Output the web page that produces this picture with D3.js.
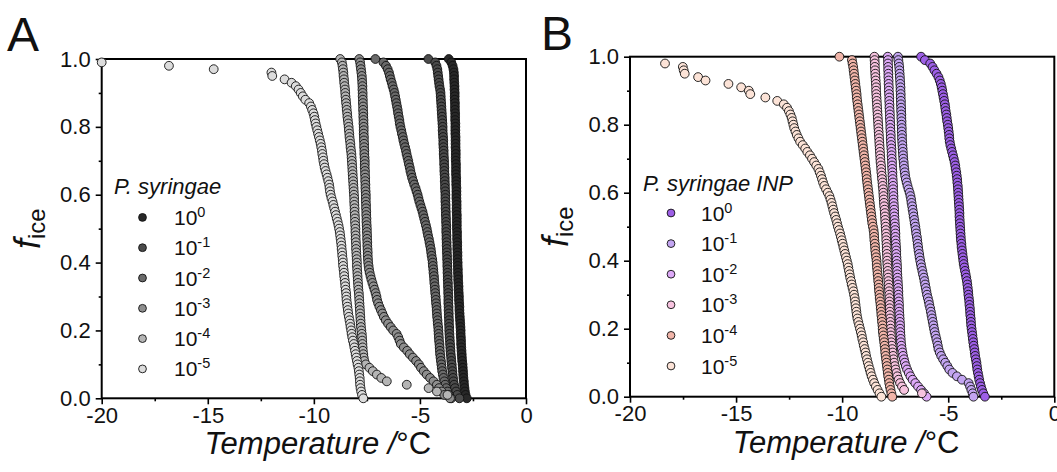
<!DOCTYPE html>
<html>
<head>
<meta charset="utf-8">
<script src="https://cdn.jsdelivr.net/npm/d3@7"></script>
<style>
  body { margin: 0; background: #fff; }
  svg { display: block; }
  text { font-family: "Liberation Sans", Arial, sans-serif; fill: #111; }
</style>
</head>
<body>
<svg id="chart" width="1057" height="472"></svg>
<script>
// Frozen fraction levels shared by every dilution series (one droplet = 0.01)
const ficeLevels = [
  1.00,0.99,0.98,0.97,0.96,0.95,0.94,0.93,0.92,0.91,0.90,
  0.89,0.88,0.87,0.86,0.85,0.84,0.83,0.82,0.81,0.80,
  0.79,0.78,0.77,0.76,0.75,0.74,0.73,0.72,0.71,0.70,
  0.69,0.68,0.67,0.66,0.65,0.64,0.63,0.62,0.61,0.60,
  0.59,0.58,0.57,0.56,0.55,0.54,0.53,0.52,0.51,0.50,
  0.49,0.48,0.47,0.46,0.45,0.44,0.43,0.42,0.41,0.40,
  0.39,0.38,0.37,0.36,0.35,0.34,0.33,0.32,0.31,0.30,
  0.29,0.28,0.27,0.26,0.25,0.24,0.23,0.22,0.21,0.20,
  0.19,0.18,0.17,0.16,0.15,0.14,0.13,0.12,0.11,0.10,
  0.09,0.08,0.07,0.06,0.05,0.04,0.03,0.02,0.01,0.00
];

const dilutionExponents = ["0", "-1", "-2", "-3", "-4", "-5"];
const xTicks = [-20, -15, -10, -5, 0];
const xMinorTicks = [-17.5, -12.5, -7.5, -2.5];
const yTicks = [0.0, 0.2, 0.4, 0.6, 0.8, 1.0];
const yMinorTicks = [0.1, 0.3, 0.5, 0.7, 0.9];

// Freezing temperatures (°C), P. syringae, dilution 10^0 ... 10^-5
const syrE0 = [
  -3.64,-3.52,-3.46,-3.42,-3.40,-3.39,-3.39,-3.38,-3.37,-3.37,-3.36,
  -3.36,-3.36,-3.35,-3.35,-3.35,-3.34,-3.34,-3.34,-3.33,-3.33,
  -3.33,-3.33,-3.32,-3.32,-3.32,-3.32,-3.31,-3.31,-3.31,-3.31,
  -3.30,-3.30,-3.30,-3.30,-3.29,-3.29,-3.29,-3.28,-3.28,-3.28,
  -3.28,-3.27,-3.27,-3.27,-3.27,-3.26,-3.26,-3.26,-3.26,-3.26,
  -3.25,-3.25,-3.25,-3.24,-3.24,-3.24,-3.23,-3.23,-3.23,-3.22,
  -3.22,-3.21,-3.21,-3.20,-3.20,-3.19,-3.18,-3.18,-3.17,-3.16,
  -3.16,-3.15,-3.14,-3.14,-3.13,-3.12,-3.11,-3.10,-3.09,-3.08,
  -3.08,-3.07,-3.06,-3.06,-3.05,-3.04,-3.03,-3.02,-3.01,-2.99,
  -2.98,-2.97,-2.96,-2.95,-2.93,-2.92,-2.90,-2.88,-2.85,-2.79
];
const syrE1 = [
  -4.60,-4.28,-4.22,-4.18,-4.16,-4.14,-4.12,-4.10,-4.08,-4.05,-4.03,
  -4.02,-4.01,-4.00,-3.99,-3.98,-3.97,-3.96,-3.95,-3.94,-3.93,
  -3.93,-3.92,-3.91,-3.90,-3.90,-3.89,-3.88,-3.88,-3.87,-3.86,
  -3.86,-3.85,-3.85,-3.84,-3.83,-3.83,-3.82,-3.82,-3.81,-3.80,
  -3.80,-3.80,-3.79,-3.79,-3.78,-3.78,-3.77,-3.77,-3.76,-3.76,
  -3.76,-3.75,-3.75,-3.74,-3.74,-3.73,-3.73,-3.72,-3.72,-3.71,
  -3.71,-3.70,-3.70,-3.69,-3.69,-3.68,-3.68,-3.67,-3.67,-3.66,
  -3.66,-3.66,-3.65,-3.65,-3.64,-3.64,-3.63,-3.63,-3.62,-3.62,
  -3.61,-3.60,-3.59,-3.58,-3.57,-3.56,-3.55,-3.53,-3.52,-3.50,
  -3.49,-3.47,-3.46,-3.44,-3.42,-3.39,-3.35,-3.30,-3.24,-3.14
];
const syrE2 = [
  -7.10,-6.72,-6.60,-6.52,-6.46,-6.42,-6.38,-6.33,-6.29,-6.24,-6.20,
  -6.17,-6.14,-6.11,-6.08,-6.05,-6.03,-6.00,-5.97,-5.95,-5.92,
  -5.88,-5.85,-5.81,-5.78,-5.74,-5.70,-5.66,-5.63,-5.59,-5.55,
  -5.52,-5.48,-5.45,-5.41,-5.37,-5.32,-5.27,-5.21,-5.16,-5.11,
  -5.07,-5.03,-4.98,-4.93,-4.88,-4.84,-4.80,-4.76,-4.72,-4.68,
  -4.65,-4.62,-4.58,-4.55,-4.52,-4.49,-4.47,-4.45,-4.42,-4.40,
  -4.39,-4.37,-4.36,-4.34,-4.33,-4.32,-4.30,-4.29,-4.28,-4.26,
  -4.25,-4.24,-4.22,-4.21,-4.20,-4.19,-4.17,-4.16,-4.14,-4.13,
  -4.12,-4.11,-4.10,-4.08,-4.07,-4.06,-4.05,-4.03,-4.01,-3.99,
  -3.97,-3.95,-3.92,-3.89,-3.85,-3.81,-3.76,-3.70,-3.63,-3.52
];
const syrE3 = [
  -7.86,-7.82,-7.80,-7.78,-7.76,-7.74,-7.73,-7.72,-7.71,-7.71,-7.70,
  -7.70,-7.69,-7.69,-7.68,-7.68,-7.67,-7.67,-7.66,-7.66,-7.65,
  -7.65,-7.65,-7.64,-7.64,-7.63,-7.63,-7.62,-7.62,-7.61,-7.60,
  -7.60,-7.60,-7.59,-7.59,-7.58,-7.58,-7.57,-7.57,-7.56,-7.55,
  -7.55,-7.55,-7.54,-7.54,-7.53,-7.53,-7.52,-7.52,-7.51,-7.50,
  -7.50,-7.49,-7.49,-7.48,-7.48,-7.47,-7.46,-7.46,-7.45,-7.44,
  -7.42,-7.40,-7.37,-7.33,-7.29,-7.24,-7.19,-7.14,-7.09,-7.05,
  -7.02,-6.97,-6.91,-6.84,-6.77,-6.70,-6.61,-6.50,-6.38,-6.26,
  -6.10,-6.02,-5.96,-5.90,-5.76,-5.60,-5.48,-5.33,-5.18,-5.05,
  -4.95,-4.82,-4.68,-4.52,-4.36,-4.20,-4.10,-3.98,-3.85,-3.58
];
const syrE4 = [
  -8.76,-8.68,-8.65,-8.63,-8.61,-8.60,-8.58,-8.57,-8.55,-8.53,-8.52,
  -8.51,-8.49,-8.48,-8.46,-8.45,-8.43,-8.42,-8.40,-8.38,-8.36,
  -8.35,-8.33,-8.32,-8.30,-8.28,-8.27,-8.25,-8.23,-8.22,-8.21,
  -8.20,-8.19,-8.18,-8.17,-8.16,-8.15,-8.14,-8.13,-8.12,-8.11,
  -8.10,-8.10,-8.09,-8.08,-8.08,-8.07,-8.06,-8.06,-8.05,-8.04,
  -8.04,-8.03,-8.03,-8.02,-8.01,-8.01,-8.00,-7.99,-7.98,-7.97,
  -7.97,-7.96,-7.95,-7.94,-7.93,-7.92,-7.91,-7.90,-7.88,-7.87,
  -7.86,-7.85,-7.84,-7.83,-7.82,-7.81,-7.80,-7.79,-7.78,-7.76,
  -7.74,-7.73,-7.72,-7.71,-7.70,-7.69,-7.67,-7.65,-7.62,-7.55,
  -7.38,-7.22,-7.03,-6.82,-6.56,-5.62,-4.59,-4.20,-3.70,null
];
const syrE5 = [
  null,-20.00,-16.83,-14.72,-12.00,-11.96,-11.38,-11.05,-10.85,-10.72,-10.62,
  -10.52,-10.40,-10.22,-10.14,-10.08,-10.02,-9.98,-9.95,-9.92,-9.88,
  -9.84,-9.80,-9.76,-9.72,-9.68,-9.65,-9.62,-9.60,-9.57,-9.55,
  -9.52,-9.49,-9.45,-9.40,-9.36,-9.32,-9.28,-9.26,-9.24,-9.21,
  -9.17,-9.12,-9.08,-9.04,-9.00,-8.96,-8.92,-8.88,-8.84,-8.81,
  -8.78,-8.76,-8.74,-8.72,-8.70,-8.69,-8.67,-8.66,-8.64,-8.63,
  -8.62,-8.60,-8.58,-8.57,-8.55,-8.53,-8.52,-8.50,-8.48,-8.47,
  -8.46,-8.44,-8.42,-8.40,-8.38,-8.35,-8.32,-8.29,-8.27,-8.24,
  -8.22,-8.19,-8.16,-8.12,-8.09,-8.06,-8.03,-8.00,-7.97,-7.94,
  -7.90,-7.88,-7.86,-7.84,-7.83,-7.82,-7.80,-7.77,-7.73,-7.67
];

// Freezing temperatures (°C), P. syringae INP, dilution 10^0 ... 10^-5
const inpE0 = [
  -6.28,-6.10,-5.85,-5.74,-5.65,-5.55,-5.46,-5.40,-5.35,-5.31,-5.28,
  -5.25,-5.22,-5.19,-5.16,-5.14,-5.12,-5.09,-5.07,-5.05,-5.02,
  -5.00,-4.98,-4.96,-4.95,-4.93,-4.90,-4.86,-4.82,-4.78,-4.74,
  -4.70,-4.67,-4.65,-4.62,-4.60,-4.58,-4.57,-4.55,-4.54,-4.53,
  -4.52,-4.51,-4.50,-4.49,-4.48,-4.47,-4.47,-4.46,-4.45,-4.44,
  -4.43,-4.42,-4.41,-4.40,-4.38,-4.37,-4.35,-4.33,-4.31,-4.29,
  -4.27,-4.24,-4.21,-4.18,-4.15,-4.12,-4.10,-4.08,-4.06,-4.05,
  -4.03,-4.01,-4.00,-3.98,-3.97,-3.96,-3.94,-3.93,-3.92,-3.90,
  -3.88,-3.86,-3.84,-3.82,-3.80,-3.77,-3.75,-3.73,-3.70,-3.67,
  -3.65,-3.63,-3.60,-3.57,-3.54,-3.50,-3.46,-3.41,-3.35,-3.27
];
const inpE1 = [
  -7.37,-7.35,-7.33,-7.31,-7.30,-7.29,-7.28,-7.27,-7.26,-7.25,-7.25,
  -7.24,-7.24,-7.23,-7.23,-7.22,-7.22,-7.21,-7.21,-7.20,-7.20,
  -7.19,-7.19,-7.18,-7.18,-7.17,-7.16,-7.15,-7.14,-7.13,-7.12,
  -7.10,-7.09,-7.07,-7.05,-7.03,-7.00,-6.96,-6.92,-6.87,-6.82,
  -6.78,-6.75,-6.73,-6.70,-6.68,-6.65,-6.63,-6.60,-6.58,-6.55,
  -6.53,-6.51,-6.48,-6.46,-6.44,-6.42,-6.40,-6.37,-6.35,-6.32,
  -6.29,-6.26,-6.22,-6.19,-6.15,-6.12,-6.09,-6.06,-6.03,-6.00,
  -5.96,-5.92,-5.89,-5.85,-5.82,-5.79,-5.76,-5.73,-5.70,-5.67,
  -5.64,-5.60,-5.56,-5.52,-5.49,-5.46,-5.40,-5.33,-5.24,-5.14,
  -5.04,-4.95,-4.80,-4.59,-4.35,-4.04,-3.97,-3.91,-3.85,-3.81
];
const inpE2 = [
  -7.85,-7.84,-7.84,-7.83,-7.83,-7.82,-7.82,-7.81,-7.81,-7.80,-7.80,
  -7.79,-7.78,-7.78,-7.77,-7.77,-7.76,-7.75,-7.75,-7.74,-7.73,
  -7.73,-7.72,-7.71,-7.71,-7.70,-7.69,-7.68,-7.67,-7.67,-7.66,
  -7.65,-7.65,-7.64,-7.63,-7.63,-7.62,-7.61,-7.60,-7.60,-7.59,
  -7.58,-7.58,-7.57,-7.56,-7.55,-7.55,-7.54,-7.53,-7.52,-7.51,
  -7.50,-7.49,-7.49,-7.48,-7.47,-7.46,-7.45,-7.45,-7.44,-7.43,
  -7.42,-7.41,-7.41,-7.40,-7.39,-7.38,-7.37,-7.36,-7.35,-7.35,
  -7.34,-7.33,-7.32,-7.32,-7.31,-7.30,-7.29,-7.28,-7.27,-7.27,
  -7.26,-7.25,-7.24,-7.23,-7.21,-7.19,-7.16,-7.13,-7.09,-7.05,
  -7.00,-6.94,-6.86,-6.78,-6.68,-6.55,-6.42,-6.28,-6.14,-6.02
];
const inpE3 = [
  -8.48,-8.47,-8.46,-8.46,-8.45,-8.44,-8.43,-8.42,-8.41,-8.40,-8.40,
  -8.39,-8.38,-8.37,-8.36,-8.35,-8.34,-8.33,-8.32,-8.31,-8.30,
  -8.29,-8.28,-8.27,-8.26,-8.25,-8.24,-8.23,-8.22,-8.21,-8.20,
  -8.19,-8.17,-8.16,-8.15,-8.13,-8.12,-8.10,-8.09,-8.07,-8.06,
  -8.05,-8.04,-8.03,-8.02,-8.00,-7.99,-7.98,-7.97,-7.96,-7.95,
  -7.94,-7.93,-7.92,-7.92,-7.91,-7.90,-7.90,-7.89,-7.88,-7.88,
  -7.87,-7.86,-7.85,-7.84,-7.83,-7.82,-7.81,-7.80,-7.79,-7.78,
  -7.77,-7.77,-7.76,-7.76,-7.75,-7.75,-7.74,-7.73,-7.72,-7.72,
  -7.71,-7.70,-7.69,-7.68,-7.66,-7.64,-7.62,-7.60,-7.58,-7.55,
  -7.52,-7.48,-7.44,-7.40,-7.34,-7.27,-7.18,-7.08,-6.24,null
];
const inpE4 = [
  -10.13,-9.54,-9.51,-9.48,-9.46,-9.44,-9.42,-9.40,-9.38,-9.36,-9.34,
  -9.32,-9.31,-9.29,-9.27,-9.25,-9.23,-9.21,-9.19,-9.17,-9.15,
  -9.13,-9.11,-9.09,-9.07,-9.05,-9.03,-9.01,-8.99,-8.97,-8.95,
  -8.93,-8.91,-8.89,-8.87,-8.85,-8.84,-8.82,-8.80,-8.78,-8.76,
  -8.74,-8.72,-8.70,-8.68,-8.66,-8.64,-8.62,-8.60,-8.58,-8.55,
  -8.52,-8.50,-8.49,-8.48,-8.46,-8.45,-8.44,-8.42,-8.40,-8.38,
  -8.37,-8.36,-8.34,-8.33,-8.31,-8.30,-8.28,-8.27,-8.26,-8.24,
  -8.23,-8.21,-8.19,-8.18,-8.16,-8.15,-8.13,-8.12,-8.10,-8.09,
  -8.08,-8.06,-8.04,-8.02,-8.00,-7.98,-7.97,-7.95,-7.93,-7.91,
  -7.89,-7.87,-7.85,-7.83,-7.80,-7.78,-7.75,-7.72,-7.68,-7.64
];
const inpE5 = [
  null,null,-18.35,-17.51,-17.47,-17.42,-16.79,-16.44,-15.36,-14.76,-14.40,
  -14.33,-13.62,-13.06,-12.75,-12.60,-12.51,-12.44,-12.38,-12.34,-12.30,
  -12.26,-12.20,-12.14,-12.06,-11.98,-11.86,-11.74,-11.64,-11.52,-11.42,
  -11.32,-11.22,-11.12,-11.06,-11.00,-10.95,-10.90,-10.84,-10.76,-10.68,
  -10.60,-10.55,-10.50,-10.46,-10.42,-10.38,-10.33,-10.28,-10.24,-10.20,
  -10.15,-10.10,-10.06,-10.02,-9.98,-9.94,-9.90,-9.86,-9.82,-9.78,
  -9.74,-9.71,-9.68,-9.65,-9.62,-9.58,-9.55,-9.51,-9.47,-9.44,
  -9.41,-9.39,-9.37,-9.35,-9.33,-9.31,-9.28,-9.24,-9.20,-9.16,
  -9.12,-9.08,-9.05,-9.01,-8.98,-8.94,-8.90,-8.87,-8.83,-8.79,
  -8.75,-8.70,-8.66,-8.61,-8.55,-8.49,-8.41,-8.33,-8.24,-8.15
];

const syringaeSeries = [syrE0, syrE1, syrE2, syrE3, syrE4, syrE5];
const inpSeries = [inpE0, inpE1, inpE2, inpE3, inpE4, inpE5];

const greyFills = ["#282828", "#4b4b4b", "#6a6a6a", "#8e8e8e", "#b5b5b5", "#dcdcdc"];
const inpFills = ["#9d5fe6", "#c3a5f1", "#dda9f7", "#f7c3df", "#f1b5a9", "#fce3d7"];

const svg = d3.select("#chart");
svg.append("rect").attr("width", 1057).attr("height", 472).attr("fill", "#fff");

function drawPanel(cfg) {
  const g = svg.append("g");
  const x = d3.scaleLinear().domain([-20, 0]).range([cfg.left, cfg.right]);
  const y = d3.scaleLinear().domain([0, 1]).range([cfg.bottom, cfg.top]);

  // minor ticks
  g.append("g")
    .attr("transform", `translate(0,${cfg.bottom})`)
    .call(d3.axisBottom(x).tickValues(xMinorTicks).tickSize(3).tickFormat(""))
    .call(a => a.select(".domain").remove());
  g.append("g")
    .attr("transform", `translate(${cfg.left},0)`)
    .call(d3.axisLeft(y).tickValues(yMinorTicks).tickSize(3).tickFormat(""))
    .call(a => a.select(".domain").remove());

  // major ticks + labels
  const xa = g.append("g")
    .attr("transform", `translate(0,${cfg.bottom})`)
    .call(d3.axisBottom(x).tickValues(xTicks).tickSize(6).tickPadding(3).tickFormat(d => String(d)));
  xa.select(".domain").remove();
  const ya = g.append("g")
    .attr("transform", `translate(${cfg.left},0)`)
    .call(d3.axisLeft(y).tickValues(yTicks).tickSize(6).tickPadding(5).tickFormat(d3.format(".1f")));
  ya.select(".domain").remove();
  g.selectAll(".tick line").attr("stroke", "#000").attr("stroke-width", 1.6);
  g.selectAll(".tick text").attr("font-size", 22).attr("fill", "#111")
    .attr("font-family", "'Liberation Sans', Arial, sans-serif");

  // frame
  g.append("rect")
    .attr("x", cfg.left).attr("y", cfg.top)
    .attr("width", cfg.right - cfg.left).attr("height", cfg.bottom - cfg.top)
    .attr("fill", "none").attr("stroke", "#000").attr("stroke-width", 2);

  // freezing curves
  cfg.series.forEach((temps, si) => {
    const pts = ficeLevels
      .map((f, i) => ({ t: temps[i], f }))
      .filter(d => d.t !== null);
    g.append("g").selectAll("circle").data(pts).join("circle")
      .attr("cx", d => x(d.t)).attr("cy", d => y(d.f)).attr("r", 4.4)
      .attr("fill", cfg.fills[si]).attr("stroke", "#111").attr("stroke-width", 0.9);
  });

  // legend
  const lg = g.append("g");
  lg.append("text").attr("x", cfg.legend.titleX).attr("y", cfg.legend.titleY)
    .attr("font-size", 22).attr("font-style", "italic").text(cfg.legend.title);
  dilutionExponents.forEach((e, i) => {
    const cy = cfg.legend.y0 + i * cfg.legend.dy;
    lg.append("circle").attr("cx", cfg.legend.markX).attr("cy", cy).attr("r", 3.9)
      .attr("fill", cfg.fills[i]).attr("stroke", "#111").attr("stroke-width", 0.9);
    const t = lg.append("text").attr("x", cfg.legend.textX).attr("y", cy + 7.5).attr("font-size", 21);
    t.append("tspan").text("10");
    t.append("tspan").attr("font-size", 14.5).attr("dy", -8).text(e);
  });

  // axis titles
  const xt = g.append("text")
    .attr("x", (cfg.left + cfg.right) / 2 + 4).attr("y", cfg.bottom + 56)
    .attr("text-anchor", "middle").attr("font-size", 31);
  xt.append("tspan").attr("font-style", "italic").text("Temperature /");
  xt.append("tspan").text("°C");

  const yt = g.append("text")
    .attr("transform", `translate(${cfg.left - 62},${(cfg.top + cfg.bottom) / 2}) rotate(-90)`)
    .attr("text-anchor", "middle");
  yt.append("tspan").attr("font-size", 36).attr("font-style", "italic").text("f");
  yt.append("tspan").attr("font-size", 24).attr("dy", 5).text("ice");

  // panel letter
  g.append("text").attr("x", cfg.letterX).attr("y", cfg.letterY)
    .attr("font-size", 48).text(cfg.letter);
}

drawPanel({
  left: 101.7, right: 526, top: 59, bottom: 398.3,
  series: syringaeSeries, fills: greyFills,
  letter: "A", letterX: 7, letterY: 51,
  legend: { title: "P. syringae", titleX: 114, titleY: 194, markX: 142.5, textX: 174, y0: 217.4, dy: 30.3 }
});

drawPanel({
  left: 630, right: 1054.3, top: 56.7, bottom: 396.7,
  series: inpSeries, fills: inpFills,
  letter: "B", letterX: 541, letterY: 50,
  legend: { title: "P. syringae INP", titleX: 643, titleY: 191, markX: 671, textX: 701, y0: 213, dy: 30.6 }
});
</script>
</body>
</html>
